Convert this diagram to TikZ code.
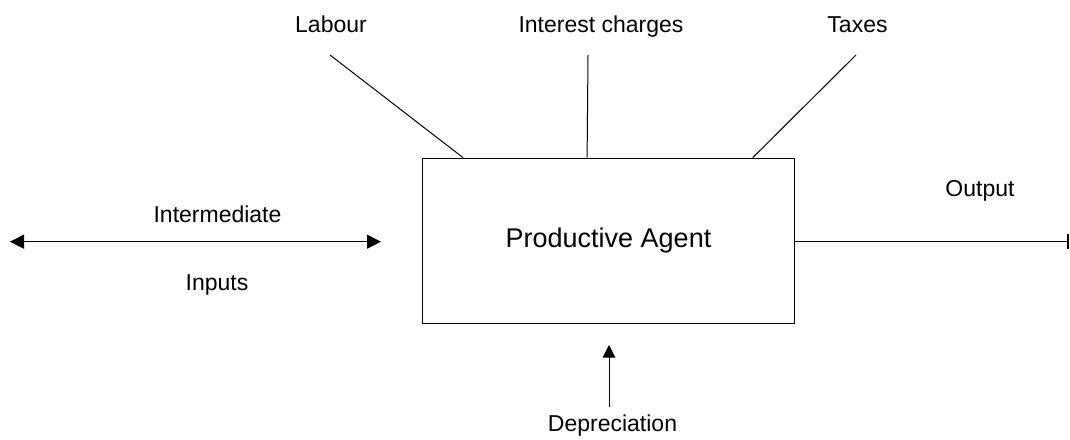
\documentclass[tikz,border=0pt]{standalone}
\usepackage{fontspec}
\setmainfont{Liberation Sans}
\usetikzlibrary{arrows.meta}
\begin{document}
\begin{tikzpicture}[x=1pt,y=-1pt,line width=1pt,
  lbl/.style={font=\fontsize{23}{27}\selectfont, inner sep=0pt, anchor=base},
  agent/.style={draw, line width=1.2pt, minimum width=371.6pt, minimum height=165.4pt,
    inner sep=0pt, font=\fontsize{27}{32}\selectfont},
  tri/.style={-{Triangle[length=12.5pt,width=12.5pt]}},
  dbl/.style={{Triangle[length=14pt,width=14pt]}-{Triangle[length=14pt,width=14pt]}},
  barend/.style={-{Bar[width=15pt,line width=2pt]}}]
\useasboundingbox (0,0) rectangle (1070,439);
% main box
\node[agent] (box) at (608.5,241) {Productive Agent};
% labels
\node[lbl] (labour) at (331,32) {Labour};
\node[lbl] (interest) at (601,32) {Interest charges};
\node[lbl] (taxes) at (857.5,32) {Taxes};
\node[lbl] (output) at (980,196) {Output};
\node[lbl] (interm) at (217.5,222.5) {Intermediate};
\node[lbl] (inputs) at (217,290) {Inputs};
\node[lbl] (deprec) at (612.5,431) {Depreciation};
% free ends
\coordinate (labTop) at (330,55);
\coordinate (intTop) at (588,55);
\coordinate (taxTop) at (856,55);
\coordinate (labFoot) at ([xshift=41pt]box.north west);
\coordinate (intFoot) at ([xshift=165pt]box.north west);
\coordinate (taxFoot) at ([xshift=330.6pt]box.north west);
\coordinate (inL) at (10,241.7);
\coordinate (inR) at (381,241.7);
\coordinate (outEnd) at (1069,241);
\coordinate (depTail) at (609,407);
\coordinate (depTip) at (609,345);
% connectors
\draw (labTop) -- (labFoot);
\draw (intTop) -- (intFoot);
\draw (taxTop) -- (taxFoot);
\draw[dbl] (inL) -- (inR);
\draw[barend] (box.east) -- (outEnd);
\draw[tri] (depTail) -- (depTip);
\end{tikzpicture}
\end{document}
